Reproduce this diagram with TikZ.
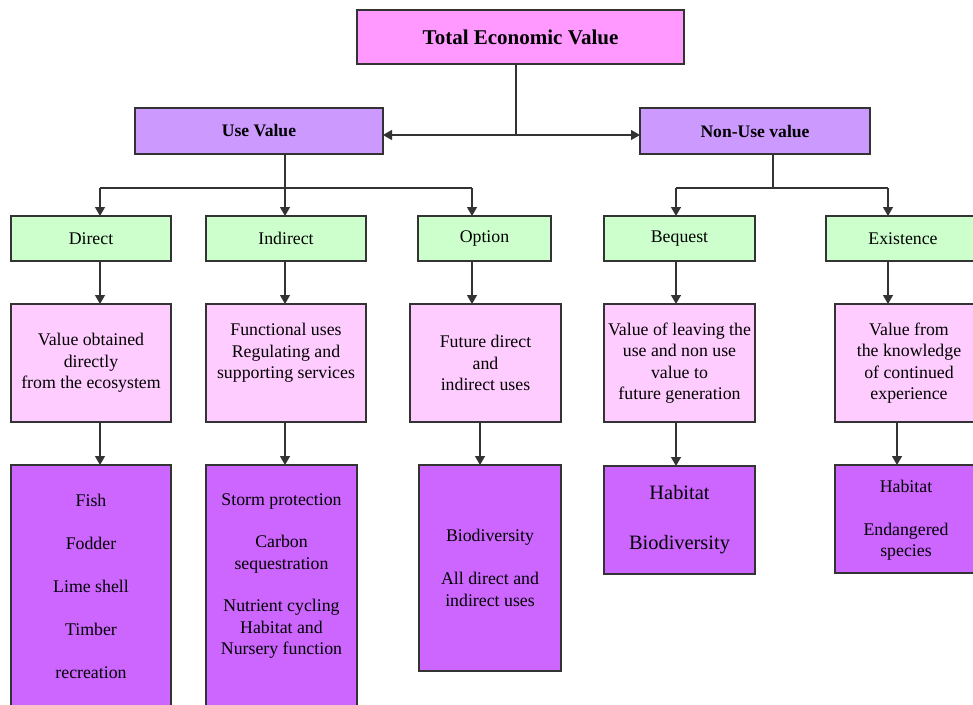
\documentclass[tikz,border=0pt]{standalone}
\usepackage{fontspec}
\setmainfont{Liberation Serif}
\usetikzlibrary{arrows.meta}
\definecolor{tevc}{HTML}{FF99FF}
\definecolor{lvc}{HTML}{CC99FF}
\definecolor{grc}{HTML}{CCFFCC}
\definecolor{pkc}{HTML}{FFCCFF}
\definecolor{ppc}{HTML}{CC66FF}
\definecolor{edge}{HTML}{333333}
\tikzset{
  box/.style={draw=edge, line width=1.2pt, inner sep=0pt, outer sep=0pt, align=center,
    font=\fontsize{17.8}{21.5}\selectfont},
  boldbox/.style={box, fill=lvc, font=\bfseries\fontsize{17.6}{21.5}\selectfont},
  greenbox/.style={box, fill=grc, minimum height=45pt},
  pinkbox/.style={box, fill=pkc, minimum height=118pt},
  purplebox/.style={box, fill=ppc},
  txt/.style={inner sep=0pt, align=center, font=\fontsize{17.8}{21.5}\selectfont},
  conn/.style={draw=edge, line width=1.3pt},
  arr/.style={conn, -{Triangle[width=10pt,length=9pt]}}
}
\begin{document}
\begin{tikzpicture}[x=1pt, y=-1pt]
\useasboundingbox (0,0) rectangle (973,704);
\clip (0,0) rectangle (973,704);
% level 0
\node[box, fill=tevc, minimum width=327pt, minimum height=54pt,
  font=\bfseries\fontsize{21}{24}\selectfont] (tev) at (520.5,37) {Total Economic Value};
% level 1
\node[boldbox, minimum width=248pt, minimum height=46pt] (uv) at (259,131) {Use Value};
\node[boldbox, minimum width=230pt, minimum height=46pt] (nuv) at (755,131) {Non-Use value};
% level 2
\node[greenbox, minimum width=160pt] (da) at (91,238.5) {Direct};
\node[greenbox, minimum width=160pt] (ia) at (286,238.5) {Indirect};
\node[greenbox, minimum width=133pt] (oa) at (484.5,238.5) {Option};
\node[greenbox, minimum width=151pt] (ba) at (679.5,238.5) {Bequest};
\node[greenbox, minimum width=154pt] (ea) at (903,238.5) {Existence};
% level 3
\node[pinkbox, minimum width=160pt] (db) at (91,363) {Value obtained\\directly\\from the ecosystem};
\node[pinkbox, minimum width=160pt] (ib) at (286,363) {};
\node[txt] (ibt) at (286,353) {Functional uses\\Regulating and\\supporting services};
\node[pinkbox, minimum width=151pt] (ob) at (485.5,363) {Future direct\\and\\indirect uses};
\node[pinkbox, minimum width=151pt] (bb) at (679.5,363) {Value of leaving the\\use and non use\\value to\\future generation};
\node[pinkbox, minimum width=148pt] (eb) at (909,363) {Value from\\the knowledge\\of continued\\experience};
% level 4
\node[purplebox, minimum width=160pt, minimum height=255pt] (dc) at (91,592.5) {};
\node[txt] (dct) at (91,586.5) {Fish\\[21.5pt]Fodder\\[21.5pt]Lime shell\\[21.5pt]Timber\\[21.5pt]recreation};
\node[purplebox, minimum width=151pt, minimum height=255pt] (ic) at (281.5,592.5) {};
\node[txt] (ict) at (281.5,576) {Storm protection\\[21pt]Carbon\\sequestration\\[21pt]Nutrient cycling\\Habitat and\\Nursery function};
\node[purplebox, minimum width=142pt, minimum height=206pt] (oc) at (490,568) {Biodiversity\\[21.5pt]All direct and\\indirect uses};
\node[purplebox, minimum width=151pt, minimum height=108pt,
  font=\fontsize{20.4}{25}\selectfont] (bc) at (679.5,520) {Habitat\\[25pt]Biodiversity};
\node[purplebox, minimum width=148pt, minimum height=108pt] (ec) at (909,519) {};
\node[txt] (ect) at (906,520) {Habitat\\[21.5pt]Endangered\\species};
% junction coordinates
\coordinate (j0) at (516,135);
\coordinate (j1) at (285,188);
\coordinate (j2) at (773,188);
\coordinate (xd) at (100,0);
\coordinate (xi) at (285,0);
\coordinate (xo) at (472,0);
\coordinate (xo2) at (480,0);
\coordinate (xb) at (676,0);
\coordinate (xe) at (888,0);
\coordinate (xe2) at (897,0);
% connectors top
\draw[conn] (j0 |- tev.south) -- (j0);
\draw[arr] (j0) -- (uv.east |- j0);
\draw[arr] (j0) -- (nuv.west |- j0);
% use value branch
\draw[conn] (j1 |- uv.south) -- (j1);
\draw[conn] (xd |- j1) -- (xo |- j1);
\draw[arr] (xd |- j1) -- (xd |- da.north);
\draw[arr] (j1) -- (xi |- ia.north);
\draw[arr] (xo |- j1) -- (xo |- oa.north);
% non-use branch
\draw[conn] (j2 |- nuv.south) -- (j2);
\draw[conn] (xb |- j2) -- (xe |- j2);
\draw[arr] (xb |- j2) -- (xb |- ba.north);
\draw[arr] (xe |- j2) -- (xe |- ea.north);
% green to pink
\draw[arr] (xd |- da.south) -- (xd |- db.north);
\draw[arr] (xi |- ia.south) -- (xi |- ib.north);
\draw[arr] (xo |- oa.south) -- (xo |- ob.north);
\draw[arr] (xb |- ba.south) -- (xb |- bb.north);
\draw[arr] (xe |- ea.south) -- (xe |- eb.north);
% pink to purple
\draw[arr] (xd |- db.south) -- (xd |- dc.north);
\draw[arr] (xi |- ib.south) -- (xi |- ic.north);
\draw[arr] (xo2 |- ob.south) -- (xo2 |- oc.north);
\draw[arr] (xb |- bb.south) -- (xb |- bc.north);
\draw[arr] (xe2 |- eb.south) -- (xe2 |- ec.north);
\end{tikzpicture}
\end{document}
